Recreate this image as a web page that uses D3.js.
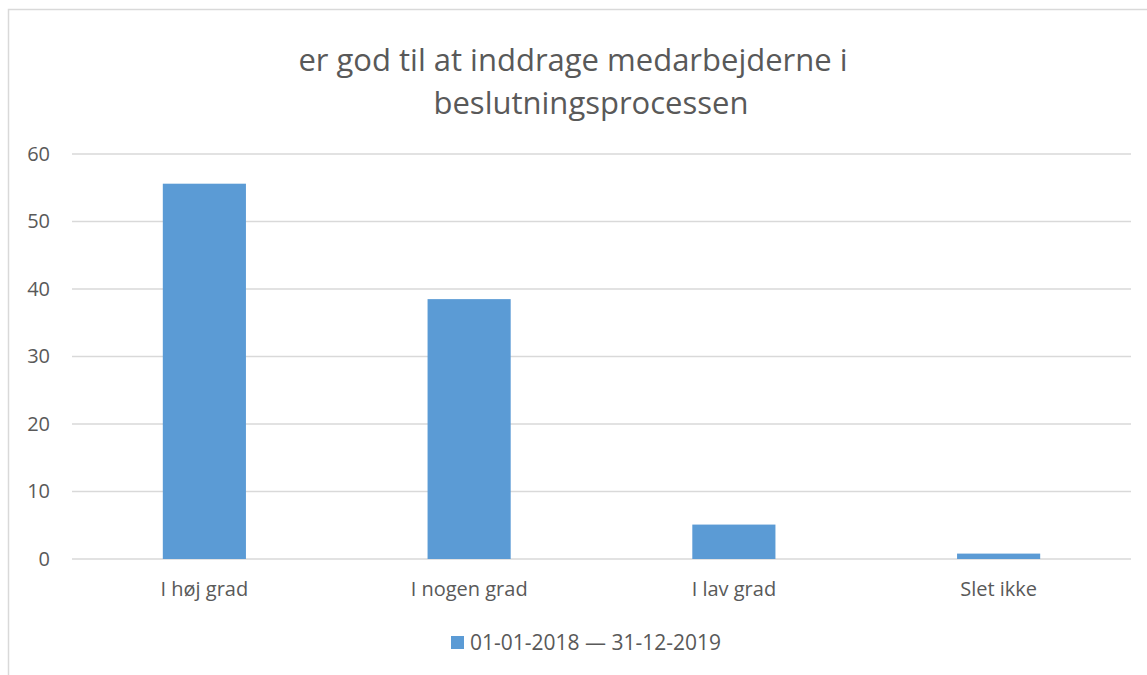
<!DOCTYPE html>
<html>
<head>
<meta charset="utf-8">
<script src="https://cdn.jsdelivr.net/npm/d3@7"></script>
<style>
  body { margin: 0; background: #fff; }
  text { font-family: "Open Sans", "Noto Sans", sans-serif; fill: #595959; }
</style>
</head>
<body>
<div id="chart"></div>
<script>
// data
var categories = ["I høj grad", "I nogen grad", "I lav grad", "Slet ikke"];
var values = [55.6, 38.5, 5.1, 0.8];
var yTicks = [0, 10, 20, 30, 40, 50, 60];
var titleLines = ["er god til at inddrage medarbejderne i", "beslutningsprocessen"];
var seriesName = "01-01-2018 — 31-12-2019";

var W = 1147, H = 675;
var margin = { top: 154, right: 16, bottom: 116, left: 72 },
  width = W - margin.left - margin.right,
  height = H - margin.top - margin.bottom;

var svg = d3.select("#chart").append("svg")
  .attr("width", W)
  .attr("height", H);

// chart border (only left/top visible in the picture)
svg.append("rect")
  .attr("x", 8.5).attr("y", 9.5)
  .attr("width", W + 20).attr("height", H + 20)
  .attr("fill", "none")
  .attr("stroke", "#d9d9d9")
  .attr("stroke-width", 1.5);

var g = svg.append("g")
  .attr("transform", "translate(" + margin.left + "," + margin.top + ")");

var x = d3.scaleBand().domain(categories).range([0, width])
  .paddingInner(0.686).paddingOuter(0.343);
var y = d3.scaleLinear().domain([0, 60]).range([height, 0]);

// gridlines
g.selectAll(".grid")
  .data(yTicks)
  .enter().append("line")
  .attr("x1", 0).attr("x2", width)
  .attr("y1", function (d) { return y(d); })
  .attr("y2", function (d) { return y(d); })
  .attr("stroke", "#d9d9d9")
  .attr("stroke-width", 1.3);

// y axis labels
var yAxis = g.append("g")
  .call(d3.axisLeft(y).tickValues(yTicks).tickSize(0).tickPadding(22));
yAxis.select(".domain").remove();
yAxis.selectAll("text")
  .style("font-size", "20px")
  .style("fill", "#595959");

// bars
g.selectAll(".bar")
  .data(values)
  .enter().append("rect")
  .attr("x", function (d, i) { return x(categories[i]); })
  .attr("width", x.bandwidth())
  .attr("y", function (d) { return y(d); })
  .attr("height", function (d) { return height - y(d); })
  .attr("fill", "#5b9bd5");

// x axis
var xAxis = g.append("g")
  .attr("transform", "translate(0," + height + ")")
  .call(d3.axisBottom(x).tickSize(0).tickPadding(23));
xAxis.select(".domain").remove();
xAxis.selectAll("text")
  .style("font-size", "20px")
  .style("fill", "#595959");

// title
svg.selectAll(".title")
  .data(titleLines)
  .enter().append("text")
  .attr("x", function (d, i) { return i === 0 ? 573 : 591; })
  .attr("y", function (d, i) { return 71 + i * 43; })
  .attr("text-anchor", "middle")
  .style("font-size", "31px")
  .text(function (d) { return d; });

// legend
var legend = svg.append("g").attr("transform", "translate(451,636)");
legend.append("rect")
  .attr("width", 13).attr("height", 13)
  .attr("fill", "#5b9bd5");
legend.append("text")
  .attr("x", 19).attr("y", 14)
  .style("font-size", "21px")
  .text(seriesName);
</script>
</body>
</html>
